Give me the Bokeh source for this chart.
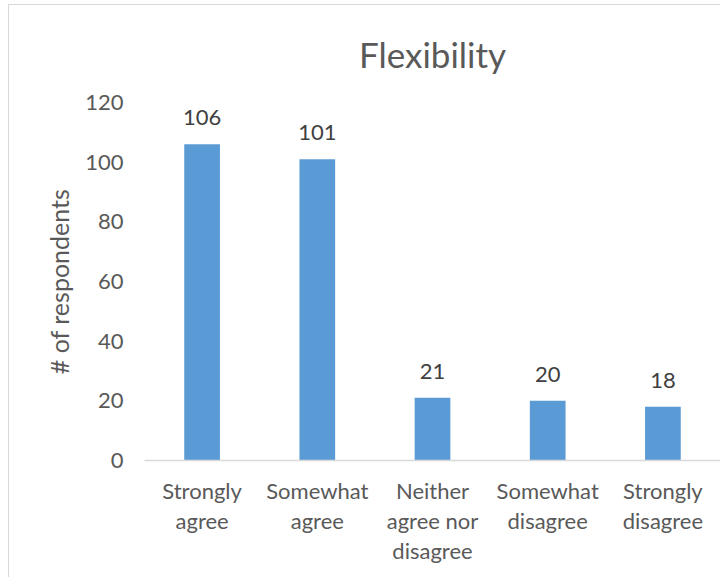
from bokeh.plotting import figure
from bokeh.models import Range1d, ColumnDataSource, LabelSet
from bokeh.core.properties import value
from bokeh.embed import file_html
from bokeh.resources import INLINE

title_text = "Flexibility"
categories = ["Strongly\nagree", "Somewhat\nagree", "Neither\nagree nor\ndisagree",
              "Somewhat\ndisagree", "Strongly\ndisagree"]
respondents = [106, 101, 21, 20, 18]
y_ticks = [0, 20, 40, 60, 80, 100, 120]

FONT = "Lato"
TXT = "#595959"

p = figure(x_range=categories, y_range=Range1d(0, 120), width=720, height=577,
           output_backend="svg", toolbar_location=None, title=title_text)
p.min_border_left = 144
p.min_border_right = 0
p.min_border_top = 102
p.min_border_bottom = 117
p.outline_line_color = None
p.background_fill_color = "white"
p.border_fill_color = None
p.styles = {
    "background": "linear-gradient(#D9D9D9, #D9D9D9) 8px 4px / 1px 100% no-repeat, "
                  "linear-gradient(#D9D9D9, #D9D9D9) 8px 4px / 100% 1px no-repeat, white"
}

src = ColumnDataSource(dict(cat=categories, val=respondents,
                            lab=[str(v) for v in respondents]))
p.vbar(x="cat", top="val", width=0.31, source=src, fill_color="#5B9BD5",
       line_color=None)

labels = LabelSet(x="cat", y="val", text="lab", source=src, text_align="center",
                  text_baseline="bottom", y_offset=19, text_font=value(FONT),
                  text_font_size=value("22px"), text_color="#404040")
p.add_layout(labels)

p.title.text_font = FONT
p.title.text_font_size = "35px"
p.title.text_font_style = "normal"
p.title.text_color = TXT
p.title.align = "center"
p.title.standoff = 56

p.xgrid.grid_line_color = None
p.ygrid.grid_line_color = None

p.yaxis.ticker = y_ticks
p.yaxis.axis_line_color = None
p.yaxis.major_tick_line_color = None
p.yaxis.minor_tick_line_color = None
p.yaxis.major_tick_out = 0
p.yaxis.major_tick_in = 0
p.yaxis.major_label_standoff = 21
p.yaxis.major_label_text_font = FONT
p.yaxis.major_label_text_font_size = "22px"
p.yaxis.major_label_text_color = TXT
p.yaxis.axis_label = "# of respondents"
p.yaxis.axis_label_text_font = FONT
p.yaxis.axis_label_text_font_size = "25px"
p.yaxis.axis_label_text_font_style = "normal"
p.yaxis.axis_label_text_color = TXT
p.yaxis.axis_label_standoff = 8

p.xaxis.axis_line_color = "#D9D9D9"
p.xaxis.axis_line_width = 1.5
p.xaxis.major_tick_line_color = None
p.xaxis.major_tick_out = 0
p.xaxis.major_tick_in = 0
p.xaxis.major_label_standoff = 16
p.xaxis.major_label_text_font = FONT
p.xaxis.major_label_text_font_size = "22px"
p.xaxis.major_label_text_color = TXT
p.xaxis.major_label_text_line_height = 1.12

open("out.html", "w").write(file_html(p, INLINE))
